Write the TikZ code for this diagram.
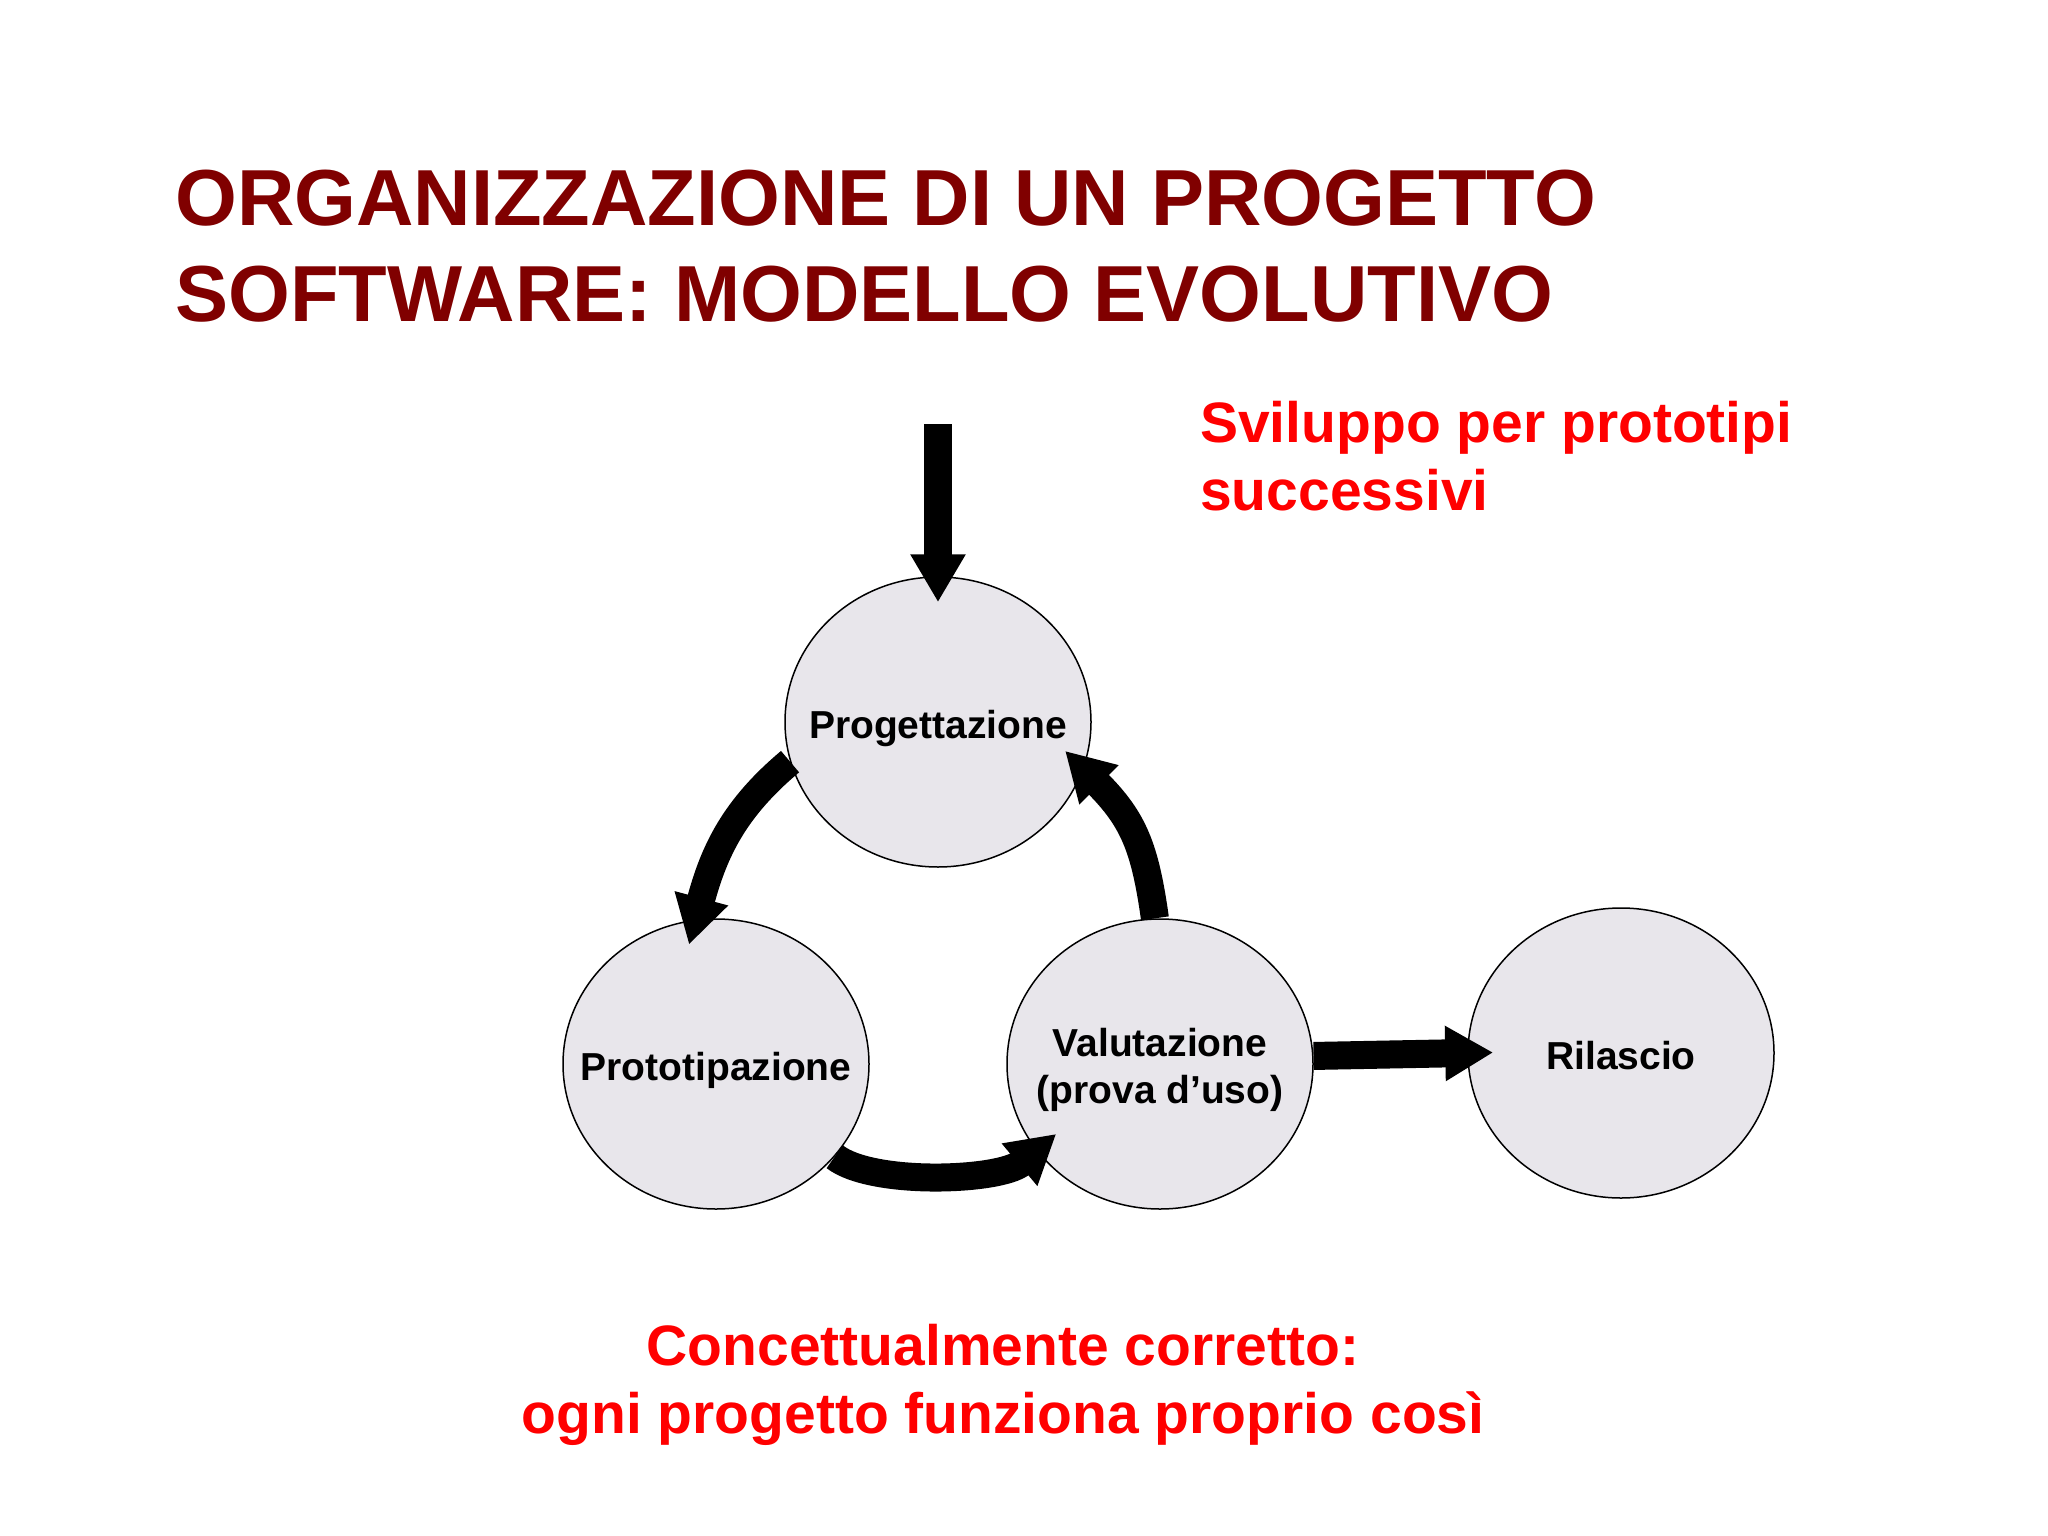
\documentclass[tikz,border=0pt]{standalone}
\usepackage{fontspec}
\setmainfont{Liberation Sans}
\usetikzlibrary{shapes.geometric,arrows.meta}

\begin{document}
\begin{tikzpicture}
		[x=1pt,y=-1pt,
		%Styles
		phase/.style={ellipse,draw,line width=1.5pt,fill=phasefill,inner xsep=-45pt,inner ysep=0pt,
			minimum width=306pt,minimum height=290pt,align=center,text height=32pt,text depth=0pt,
			font=\bfseries\fontsize{39}{47}\selectfont},
		flow/.style={line width=28pt,shorten >=-26pt,-{Triangle[width=52pt,length=48pt]}},
		title text/.style={anchor=north west,inner sep=0pt,align=left,text=titlecolor,
			font=\bfseries\fontsize{79.5}{96}\selectfont},
		note text/.style={inner sep=0pt,text=notecolor,
			font=\bfseries\fontsize{57}{68}\selectfont}
		]
		
		%Colors
		\colorlet{titlecolor}{red!50!black}	%heading
		\colorlet{notecolor}{red}	%remarks
		\definecolor{phasefill}{RGB}{232,230,235}	%circles
		
		\useasboundingbox (0,0) rectangle (2048,1536);
		
		%The graphic
		\node[title text] (title) at (175,170) {ORGANIZZAZIONE DI UN PROGETTO\\SOFTWARE: MODELLO EVOLUTIVO};
		\node[note text,anchor=north west,align=left] (sviluppo) at (1200,401) {Sviluppo per prototipi\\successivi};
		\node[note text,anchor=north,align=center] (concetto) at (1003,1324) {Concettualmente corretto:\\ogni progetto funziona proprio così};
		
		\node[phase] (prog) at (938,722) {Progettazione};
		\node[phase] (proto) at (716,1064) {Prototipazione};
		\node[phase,text height=79pt] (valut) at (1160,1064) {Valutazione\\(prova d’uso)};
		\node[phase] (rilascio) at (1621,1053) {Rilascio};
		
		\coordinate (ingresso) at (938,424);
		
		\draw[flow] (ingresso) -- (prog.north);
		\draw[flow] (prog.195) to[out=220,in=75] (proto.98);
		\draw[flow] (proto.322) to[out=-38,in=220,looseness=0.6] (valut.215);
		\draw[flow] (valut.92) to[out=98,in=315,looseness=1.1] (prog.342);
		\draw[flow] (valut.3) -- (rilascio.west);
\end{tikzpicture}
\end{document}
